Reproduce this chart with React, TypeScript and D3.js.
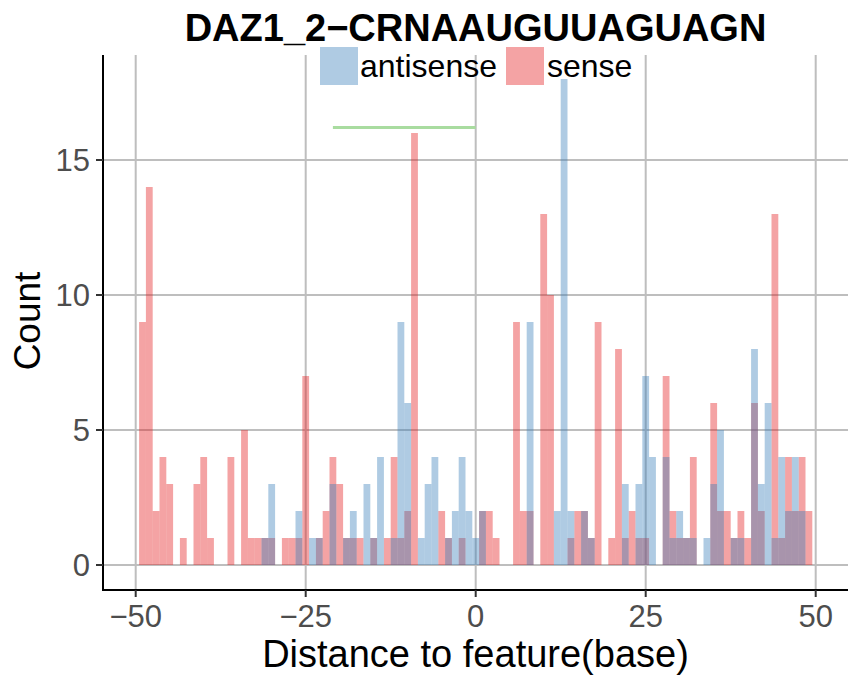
import * as d3 from "d3";

// bin centres, width 1
const bins = d3.range(-49, 50);

// counts per bin, -49 .. 49
const senseCounts = [
  9, 14, 2, 4, 3, 0, 1, 0, 3, 4, 1, 0, 0, 4, 0, 5, 1, 1, 1, 1,
  0, 1, 1, 1, 7, 0, 1, 2, 4, 3, 1, 1, 1, 0, 1, 0, 1, 4, 1, 2,
  16, 0, 0, 0, 2, 1, 0, 1, 0, 0, 2, 2, 1, 0, 0, 9, 2, 2, 0, 13,
  10, 0, 0, 1, 2, 2, 1, 9, 0, 1, 8, 1, 2, 1, 1, 0, 0, 7, 2, 1,
  1, 4, 0, 0, 6, 2, 2, 1, 2, 1, 6, 2, 0, 13, 1, 4, 2, 4, 2,
];
const antisenseCounts = [
  0, 0, 0, 0, 0, 0, 0, 0, 0, 0, 0, 0, 0, 0, 0, 0, 0, 0, 1, 3,
  0, 0, 0, 2, 0, 1, 1, 0, 3, 0, 1, 2, 0, 3, 1, 4, 0, 1, 9, 6,
  0, 1, 3, 4, 0, 1, 2, 4, 2, 1, 2, 0, 0, 0, 0, 0, 0, 9, 0, 0,
  0, 2, 18, 2, 0, 2, 1, 0, 0, 0, 0, 3, 0, 3, 7, 4, 0, 4, 1, 2,
  1, 1, 0, 1, 3, 5, 0, 1, 1, 0, 8, 3, 6, 1, 4, 2, 4, 2, 0,
];

// motif span marker
const motifStart = -21;
const motifEnd = 0;
const motifLevel = 16.2;

const xTicks = [-50, -25, 0, 25, 50];
const yTicks = [0, 5, 10, 15];

const title = "DAZ1_2\u2212CRNAAUGUUAGUAGN";
const seriesNames = ["antisense", "sense"];

const W = 848;
const H = 677;
const panel = { left: 103, right: 848, top: 55, bottom: 590 };

const BLUE = "#377EB8";
const RED = "#E41A1C";
const FONT = "'Liberation Sans', Arial, sans-serif";

const fmt = (v: number) => (v < 0 ? "\u2212" + Math.abs(v) : String(v));

export default function App() {
  const x = d3.scaleLinear().domain([-50, 50]).range([135.7, 815.7]);
  const y = d3.scaleLinear().domain([0, 15]).range([565, 160]);

  const bar = (c: number, n: number, fill: string, key: string) =>
    n > 0 ? (
      <rect
        key={key}
        x={x(c - 0.5)}
        width={x(c + 0.5) - x(c - 0.5)}
        y={y(n)}
        height={y(0) - y(n)}
        fill={fill}
        fillOpacity={0.4}
      />
    ) : null;

  return (
    <svg
      width={W}
      height={H}
      style={{ position: "absolute", left: 0, top: 0, background: "#fff" }}
      fontFamily={FONT}
    >
      <defs>
        <clipPath id="panel">
          <rect
            x={panel.left}
            y={panel.top}
            width={panel.right - panel.left}
            height={panel.bottom - panel.top}
          />
        </clipPath>
      </defs>

      {/* grid */}
      <g stroke="#bebebe" strokeWidth={2}>
        {xTicks.map((t) => (
          <line key={"gx" + t} x1={x(t)} x2={x(t)} y1={panel.top} y2={panel.bottom} />
        ))}
        {yTicks.map((t) => (
          <line key={"gy" + t} x1={panel.left} x2={panel.right} y1={y(t)} y2={y(t)} />
        ))}
      </g>

      <g clipPath="url(#panel)">
        {bins.map((c, i) => bar(c, senseCounts[i], RED, "s" + c))}
        {bins.map((c, i) => bar(c, antisenseCounts[i], BLUE, "a" + c))}
        <line
          x1={x(motifStart)}
          x2={x(motifEnd)}
          y1={y(motifLevel)}
          y2={y(motifLevel)}
          stroke="#a9dca0"
          strokeWidth={3}
        />
      </g>

      {/* axes */}
      <line x1={panel.left} x2={panel.left} y1={panel.top} y2={panel.bottom + 1} stroke="#000" strokeWidth={2} />
      <line x1={panel.left - 1} x2={panel.right} y1={panel.bottom} y2={panel.bottom} stroke="#000" strokeWidth={2} />
      <g stroke="#333" strokeWidth={2}>
        {xTicks.map((t) => (
          <line key={"tx" + t} x1={x(t)} x2={x(t)} y1={panel.bottom} y2={panel.bottom + 7} />
        ))}
        {yTicks.map((t) => (
          <line key={"ty" + t} x1={panel.left - 7} x2={panel.left} y1={y(t)} y2={y(t)} />
        ))}
      </g>

      <g fill="#4d4d4d" fontSize={31}>
        {xTicks.map((t) => (
          <text key={"lx" + t} x={x(t)} y={627} textAnchor="middle">
            {fmt(t)}
          </text>
        ))}
        {yTicks.map((t) => (
          <text key={"ly" + t} x={90} y={y(t)} dy="0.35em" textAnchor="end">
            {fmt(t)}
          </text>
        ))}
      </g>

      <text x={475.5} y={667} textAnchor="middle" fontSize={38} fill="#000">
        Distance to feature(base)
      </text>
      <text
        transform="translate(40,321) rotate(-90)"
        textAnchor="middle"
        fontSize={37}
        fill="#000"
      >
        Count
      </text>

      <text x={475.5} y={41} textAnchor="middle" fontSize={38} fontWeight="bold" fill="#000">
        {title}
      </text>

      {/* legend */}
      <rect x={320} y={47} width={38} height={38} fill={BLUE} fillOpacity={0.4} />
      <text x={360} y={77} fontSize={32} fill="#000">
        {seriesNames[0]}
      </text>
      <rect x={506} y={47} width={38} height={38} fill={RED} fillOpacity={0.4} />
      <text x={547} y={77} fontSize={32} fill="#000">
        {seriesNames[1]}
      </text>
    </svg>
  );
}
